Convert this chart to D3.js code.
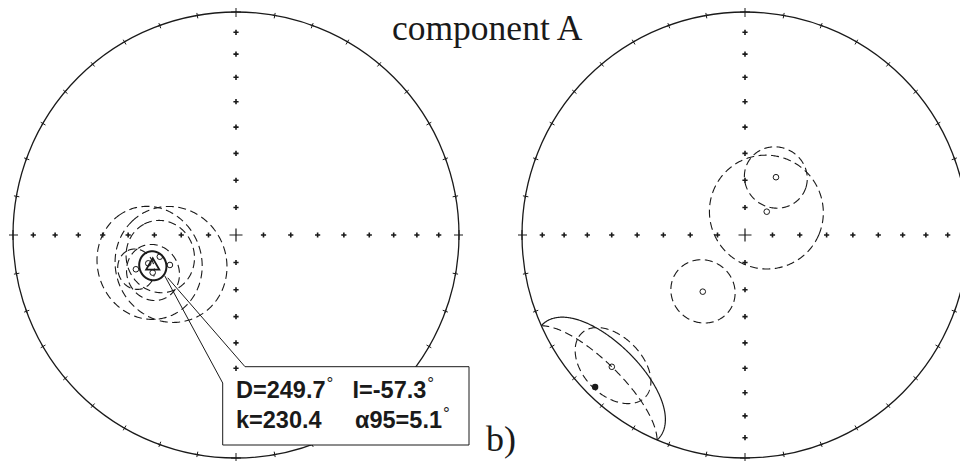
<!DOCTYPE html>
<html>
<head>
<meta charset="utf-8">
<script src="https://cdn.jsdelivr.net/npm/d3@7"></script>
<style>
  body { margin: 0; background: #fff; }
  svg { display: block; }
</style>
</head>
<body>
<svg id="chart" width="960" height="461"></svg>
<script>
// ---- data: directions (declination, inclination in degrees) and cone radii ----
// Left net: sample directions of component A (upper hemisphere, open symbols)
const leftDec  = [252.1, 254.1, 245.6, 251.1, 245.7];
const leftInc  = [-56.0, -60.9, -63.4, -50.8, -56.3];
const leftA95  = [19.9, 12.8, 20.8, 7.0, 9.9];

// Fisher mean of the left net
const meanDec = 249.7;
const meanInc = -57.3;
const meanK   = 230.4;
const meanA95 = 5.1;

// Right net: upper-hemisphere directions (open) and one lower-hemisphere direction (filled)
const rightDec = [28.2, 43.0, 216.7, 225.3];
const rightInc = [-66.0, -78.4, -64.1, -17.1];
const rightA95 = [11.3, 20.8, 11.6, 13.2];
const lowerDec = [224.6];
const lowerInc = [4.8];
const lowerA95 = [21.9];

// grid: primitive ticks every 10 deg of declination, axis crosses every 10 deg of inclination
const tickDecs  = d3.range(0, 360, 10);
const crossIncs = d3.range(10, 90, 10);
const axisDecs  = [0, 90, 180, 270];

const titleText = "component A";
const panelText = "b)";

// ---- layout ----
const R = 223;
const nets = [
  { cx: 236, cy: 235 },
  { cx: 745, cy: 235 }
];

const svg = d3.select("#chart");
const ink = "#1a1a1a";

// declination/inclination -> lon/lat for a north-pole centred equal-area projection
const toLL = (D, I) => [180 - D, I];

function makeProj(n) {
  return d3.geoAzimuthalEqualArea()
    .rotate([0, -90])
    .scale(R / Math.SQRT2)
    .translate([n.cx, n.cy])
    .clipAngle(90)
    .precision(0.1);
}

function ring(D, I, a) {
  const poly = d3.geoCircle().center(toLL(D, I)).radius(a).precision(1)();
  return { type: "LineString", coordinates: poly.coordinates[0] };
}

function cross(g, x, y, s, w) {
  g.append("path")
    .attr("d", `M${x - s},${y}H${x + s}M${x},${y - s}V${y + s}`)
    .attr("stroke", ink).attr("stroke-width", w).attr("fill", "none");
}

function drawNet(g, proj, n) {
  // primitive
  g.append("circle")
    .attr("cx", n.cx).attr("cy", n.cy).attr("r", R)
    .attr("fill", "none").attr("stroke", ink).attr("stroke-width", 1.3);

  // ticks on primitive
  tickDecs.forEach(d => {
    const big = d % 90 === 0;
    const t = d * Math.PI / 180;
    const ux = Math.sin(t), uy = -Math.cos(t);
    const inner = big ? 5 : 3, outer = big ? 4 : 2.5;
    g.append("line")
      .attr("x1", n.cx + ux * (R - inner)).attr("y1", n.cy + uy * (R - inner))
      .attr("x2", n.cx + ux * (R + outer)).attr("y2", n.cy + uy * (R + outer))
      .attr("stroke", ink).attr("stroke-width", 1);
    const s = big ? 5 : 2;
    const px = n.cx + ux * R, py = n.cy + uy * R;
    g.append("line")
      .attr("x1", px - uy * s).attr("y1", py + ux * s)
      .attr("x2", px + uy * s).attr("y2", py - ux * s)
      .attr("stroke", ink).attr("stroke-width", 1);
  });

  // small crosses along N-S and E-W axes
  axisDecs.forEach(d => {
    crossIncs.forEach(inc => {
      const [x, y] = proj(toLL(d, inc));
      cross(g, x, y, 2.6, 1.6);
    });
  });
  // centre cross
  const [x0, y0] = proj(toLL(0, 90));
  cross(g, x0, y0, 6.5, 1.2);
}

const dashed = "8,4.5";

// ---------------- left net ----------------
const gL = svg.append("g");
const projL = makeProj(nets[0]);
const pathL = d3.geoPath(projL);
drawNet(gL, projL, nets[0]);

leftDec.forEach((D, i) => {
  gL.append("path")
    .attr("d", pathL(ring(D, Math.abs(leftInc[i]), leftA95[i])))
    .attr("fill", "none").attr("stroke", ink).attr("stroke-width", 1.1)
    .attr("stroke-dasharray", dashed);
});
leftDec.forEach((D, i) => {
  const [x, y] = projL(toLL(D, Math.abs(leftInc[i])));
  gL.append("circle").attr("cx", x).attr("cy", y).attr("r", 2.8)
    .attr("fill", "#fff").attr("stroke", ink).attr("stroke-width", 1);
});

// mean direction with its cone of confidence
gL.append("path")
  .attr("d", pathL(ring(meanDec, Math.abs(meanInc), meanA95)))
  .attr("fill", "none").attr("stroke", ink).attr("stroke-width", 2);
const [mx, my] = projL(toLL(meanDec, Math.abs(meanInc)));
const tri = d3.symbol().type(d3.symbolTriangle).size(75);
gL.append("path").attr("d", tri()).attr("transform", `translate(${mx},${my})`)
  .attr("fill", "none").attr("stroke", ink).attr("stroke-width", 1.8);

// callout with the mean statistics
const box = { x0: 222.7, y0: 366.7, x1: 469, y1: 445, cut: 22.3, cutH: 16.3 };
const apex = [mx + 12, my + 10];
gL.append("path")
  .attr("d", `M${box.x0 + box.cut},${box.y0}H${box.x1}V${box.y1}H${box.x0}V${box.y0 + box.cutH}`)
  .attr("fill", "#fff").attr("stroke", ink).attr("stroke-width", 1);
gL.append("path")
  .attr("d", `M${box.x0},${box.y0 + box.cutH}L${apex[0]},${apex[1]}M${box.x0 + box.cut},${box.y0}L${apex[0] + 3},${apex[1] + 2}`)
  .attr("fill", "none").attr("stroke", ink).attr("stroke-width", 1);

const f1 = v => v.toFixed(1);
const statRows = [
  [{ x: 236, parts: ["D=" + f1(meanDec), "°"] }, { x: 352.5, parts: ["I=" + f1(meanInc), "°"] }],
  [{ x: 236, parts: ["k=" + f1(meanK)] }, { x: 355, parts: ["α95=" + f1(meanA95), "°"] }]
];
const rowY = [398, 428];
statRows.forEach((row, ri) => {
  row.forEach(cell => {
    const t = gL.append("text")
      .attr("x", cell.x).attr("y", rowY[ri])
      .attr("font-family", "'Liberation Sans', Arial, sans-serif")
      .attr("font-weight", "bold")
      .attr("font-size", 23.5).attr("fill", ink);
    t.append("tspan").text(cell.parts[0]);
    if (cell.parts[1]) {
      t.append("tspan").attr("dy", -9).attr("dx", 1).attr("font-size", 17)
        .attr("font-weight", "normal").text(cell.parts[1]);
    }
  });
});

// ---------------- right net ----------------
const gR = svg.append("g");
const projR = makeProj(nets[1]);
const pathR = d3.geoPath(projR);
drawNet(gR, projR, nets[1]);

rightDec.forEach((D, i) => {
  gR.append("path")
    .attr("d", pathR(ring(D, Math.abs(rightInc[i]), rightA95[i])))
    .attr("fill", "none").attr("stroke", ink).attr("stroke-width", 1.1)
    .attr("stroke-dasharray", dashed);
});
rightDec.forEach((D, i) => {
  const [x, y] = projR(toLL(D, Math.abs(rightInc[i])));
  gR.append("circle").attr("cx", x).attr("cy", y).attr("r", 2.8)
    .attr("fill", "#fff").attr("stroke", ink).attr("stroke-width", 1);
});

// lower-hemisphere direction: cone part below horizontal solid, part above mirrored and dashed
lowerDec.forEach((D, i) => {
  gR.append("path")
    .attr("d", pathR(ring(D, lowerInc[i], lowerA95[i])))
    .attr("fill", "none").attr("stroke", ink).attr("stroke-width", 1.2);
  gR.append("path")
    .attr("d", pathR(ring(D, -lowerInc[i], lowerA95[i])))
    .attr("fill", "none").attr("stroke", ink).attr("stroke-width", 1.1)
    .attr("stroke-dasharray", dashed);
  const [x, y] = projR(toLL(D, lowerInc[i]));
  gR.append("circle").attr("cx", x).attr("cy", y).attr("r", 3.2).attr("fill", ink);
});

// ---------------- labels ----------------
svg.append("text").attr("x", 392).attr("y", 40)
  .attr("font-family", "'Liberation Serif', 'Times New Roman', serif")
  .attr("font-size", 35.5).attr("fill", ink).text(titleText);
svg.append("text").attr("x", 486).attr("y", 451)
  .attr("font-family", "'Liberation Serif', 'Times New Roman', serif")
  .attr("font-size", 36).attr("fill", ink).text(panelText);
</script>
</body>
</html>
